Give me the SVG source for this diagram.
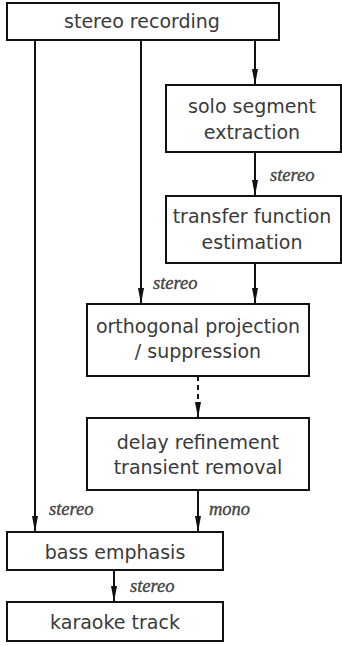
<svg xmlns="http://www.w3.org/2000/svg" width="342" height="646" viewBox="0 0 342 646">
<style>
.box{fill:#fff;stroke:#111;stroke-width:2}
.t{font-family:"DejaVu Sans",sans-serif;font-size:19px;fill:#3a3a3a;text-anchor:middle}
.lb{font-family:"Liberation Serif",serif;font-style:italic;font-size:18.5px;fill:#444;stroke:#444;stroke-width:0.35}
.c{stroke:#111;stroke-width:2;fill:none}
.d{stroke-dasharray:5 4}
</style>
<defs>
<marker id="ah" viewBox="0 0 16 6" refX="16" refY="3" markerWidth="16" markerHeight="6" markerUnits="userSpaceOnUse" orient="auto">
<path d="M0,0 L16,3 L0,6 Z" fill="#111"/>
</marker>
</defs>
<g id="connectors">
<path class="c" d="M35,40 V532" marker-end="url(#ah)"/>
<path class="c" d="M141,40 V304" marker-end="url(#ah)"/>
<path class="c" d="M255,40 V85" marker-end="url(#ah)"/>
<path class="c" d="M255,152 V196" marker-end="url(#ah)"/>
<path class="c" d="M255,263 V304" marker-end="url(#ah)"/>
<path class="c d" d="M198,376 V418" marker-end="url(#ah)"/>
<path class="c" d="M198,490 V532" marker-end="url(#ah)"/>
<path class="c" d="M114,570 V602" marker-end="url(#ah)"/>
<text class="lb" x="270" y="181">stereo</text>
<text class="lb" x="153" y="289">stereo</text>
<text class="lb" x="49" y="515">stereo</text>
<text class="lb" x="209" y="515">mono</text>
<text class="lb" x="130" y="592">stereo</text>
</g>
<g id="stereo_recording">
<rect class="box" x="7" y="3" width="272" height="37"/>
<text class="t" x="142" y="28">stereo recording</text>
</g>
<g id="solo_segment">
<rect class="box" x="166" y="85" width="175" height="67"/>
<text class="t" x="252" y="113">solo segment</text>
<text class="t" x="252" y="139">extraction</text>
</g>
<g id="transfer_function">
<rect class="box" x="166" y="196" width="175" height="67"/>
<text class="t" x="252" y="223">transfer function</text>
<text class="t" x="252" y="249">estimation</text>
</g>
<g id="orthogonal_projection">
<rect class="box" x="87" y="304" width="222" height="72"/>
<text class="t" x="198" y="333">orthogonal projection</text>
<text class="t" x="198" y="358">/ suppression</text>
</g>
<g id="delay_refinement">
<rect class="box" x="87" y="418" width="222" height="72"/>
<text class="t" x="198" y="449">delay refinement</text>
<text class="t" x="198" y="474">transient removal</text>
</g>
<g id="bass_emphasis">
<rect class="box" x="7" y="532" width="216" height="38"/>
<text class="t" x="115" y="559">bass emphasis</text>
</g>
<g id="karaoke_track">
<rect class="box" x="7" y="602" width="216" height="39"/>
<text class="t" x="115" y="629">karaoke track</text>
</g>
</svg>
